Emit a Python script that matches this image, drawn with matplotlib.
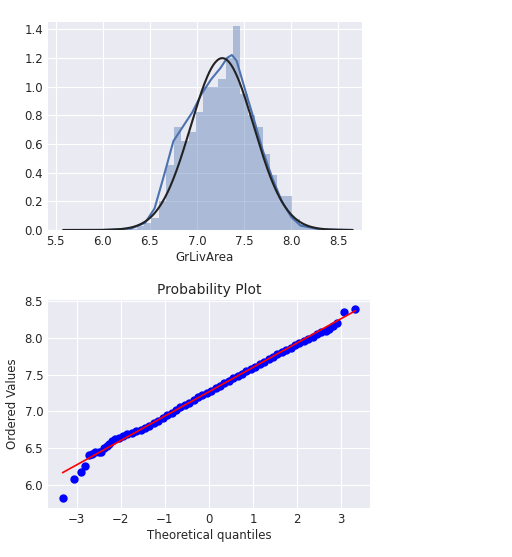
import matplotlib
matplotlib.use("Agg")
import matplotlib.pyplot as plt
import numpy as np

plt.style.use("seaborn-v0_8-darkgrid")
plt.rcParams['font.family'] = ['DejaVu Sans']
plt.rcParams['font.size'] = 8.5

# histogram (density) of log GrLivArea
bin_lo, bin_w = 5.81, 0.0786
hist_h = [0.005, 0, 0, 0, 0, 0, 0.01, 0.03, 0.05, 0.085, 0.2, 0.45, 0.72, 0.62,
          0.68, 0.82, 1.0, 1.0, 1.05, 1.2, 1.42, 0.95, 0.8, 0.72, 0.53, 0.38,
          0.24, 0.24, 0.08, 0.04, 0.02, 0.01, 0.005, 0, 0.005, 0.005]
# kde curve
kde_x = [5.6, 6.0, 6.3, 6.45, 6.55, 6.65, 6.75, 6.85, 6.95, 7.05, 7.15, 7.25,
         7.32, 7.37, 7.42, 7.5, 7.6, 7.7, 7.8, 7.9, 8.0, 8.1, 8.3, 8.65]
kde_y = [0.0, 0.0, 0.01, 0.05, 0.15, 0.38, 0.62, 0.72, 0.82, 0.95, 1.05, 1.13,
         1.2, 1.22, 1.18, 1.0, 0.78, 0.55, 0.36, 0.2, 0.09, 0.03, 0.005, 0.0]
mu, sigma = 7.268, 0.333

# probability plot points (theoretical quantile, ordered value)
qq_x = [-3.32, -3.05, -2.9, -2.8, -2.72, -2.65, -2.58, -2.5, -2.44, -2.38, -2.32,
        -2.26, -2.2, -2.12, -2.05, -1.95, -1.85, -1.75, -1.65, -1.55, -1.45, -1.35,
        -1.25, -1.15, -1.05, -0.95, -0.85, -0.75, -0.65, -0.55, -0.45, -0.35, -0.25,
        -0.15, -0.05, 0.05, 0.15, 0.25, 0.35, 0.45, 0.55, 0.65, 0.75, 0.85, 0.95,
        1.05, 1.15, 1.25, 1.35, 1.45, 1.55, 1.65, 1.75, 1.85, 1.95, 2.05, 2.15,
        2.25, 2.35, 2.45, 2.55, 2.65, 2.72, 2.8, 2.9, 3.05, 3.32]
qq_y = [5.81, 6.08, 6.17, 6.25, 6.4, 6.42, 6.45, 6.45, 6.45, 6.5, 6.53,
        6.56, 6.6, 6.62, 6.63, 6.66, 6.69, 6.71, 6.73, 6.75, 6.77, 6.8,
        6.84, 6.87, 6.91, 6.95, 6.98, 7.02, 7.06, 7.09, 7.12, 7.15, 7.19,
        7.22, 7.25, 7.28, 7.32, 7.35, 7.38, 7.41, 7.45, 7.48, 7.51, 7.55, 7.58,
        7.61, 7.65, 7.68, 7.71, 7.74, 7.78, 7.81, 7.84, 7.87, 7.9, 7.93, 7.96,
        7.99, 8.01, 8.05, 8.08, 8.1, 8.13, 8.17, 8.2, 8.36, 8.4]

fig = plt.figure(figsize=(5.12, 5.57), dpi=100)
ax1 = fig.add_axes([48/512, 1-230/557, 314/512, 208/557])
ax2 = fig.add_axes([48/512, 1-508/557, 322/512, 208/557])

edges = bin_lo + bin_w * np.arange(len(hist_h) + 1)
ax1.bar(edges[:-1], hist_h, width=bin_w, align='edge', color='#4c72b0', alpha=0.4, linewidth=0)
ax1.plot(kde_x, kde_y, color='#4c72b0', lw=1.5)
xs = np.linspace(5.58, 8.65, 300)
ax1.plot(xs, np.exp(-0.5*((xs-mu)/sigma)**2)/(sigma*np.sqrt(2*np.pi)), color='#222222', lw=1.5)
ax1.set_xlim(5.42, 8.75)
ax1.set_ylim(0, 1.45)
ax1.set_yticks(np.arange(0, 1.41, 0.2))
ax1.set_xlabel('GrLivArea', labelpad=2)

ax2.plot(qq_x, qq_y, 'o', color='blue', ms=5)
lx = np.array([-3.32, 3.32])
ax2.plot(lx, mu + sigma*lx, color='red', lw=1.2)
ax2.set_xlim(-3.65, 3.65)
ax2.set_xticks(range(-3, 4))
ax2.set_xticklabels(['\u22123', '\u22122', '\u22121', '0', '1', '2', '3'])
ax2.set_ylim(5.68, 8.52)
ax2.set_title('Probability Plot', fontsize=10, pad=4)
ax2.set_xlabel('Theoretical quantiles', labelpad=2)
ax2.set_ylabel('Ordered Values')

fig.savefig('out.png', dpi=100)
